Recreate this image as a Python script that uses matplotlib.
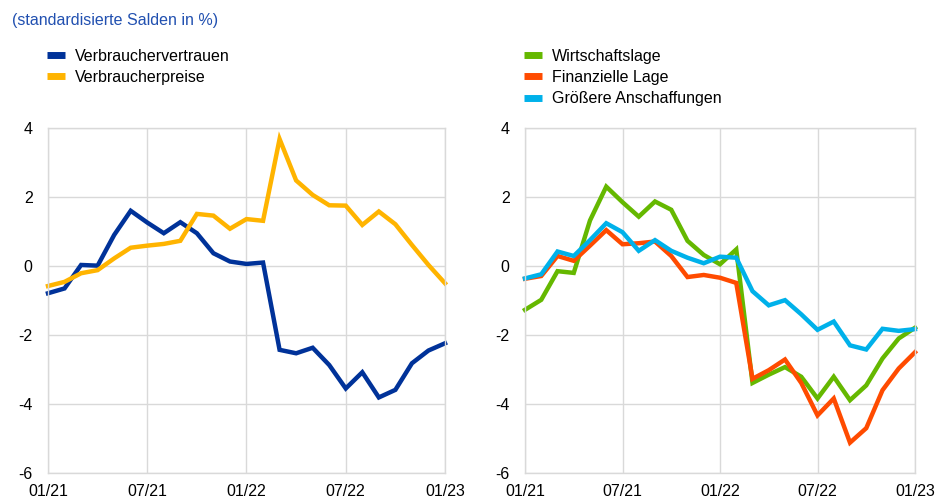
import matplotlib
matplotlib.use("Agg")
import matplotlib.pyplot as plt
import numpy as np

plt.rcParams['font.family'] = ['Liberation Sans', 'DejaVu Sans']

months = list(range(25))  # 01/21 .. 01/23 monthly
tick_pos = [0, 6, 12, 18, 24]
tick_labels = ["01/21", "07/21", "01/22", "07/22", "01/23"]
y_ticks = [4, 2, 0, -2, -4, -6]

verbrauchervertrauen = [-0.79, -0.65, 0.03, 0.01, 0.9, 1.6, 1.26, 0.95, 1.27, 0.95,
                        0.37, 0.13, 0.06, 0.1, -2.43, -2.53, -2.37, -2.87, -3.55, -3.08,
                        -3.81, -3.59, -2.82, -2.45, -2.24]
verbraucherpreise = [-0.58, -0.46, -0.21, -0.12, 0.22, 0.53, 0.59, 0.64, 0.73, 1.51,
                     1.46, 1.08, 1.36, 1.31, 3.68, 2.48, 2.06, 1.76, 1.75, 1.19,
                     1.58, 1.21, 0.61, 0.03, -0.5]

wirtschaftslage = [-1.27, -0.98, -0.15, -0.2, 1.32, 2.3, 1.85, 1.43, 1.87, 1.63,
                   0.73, 0.32, 0.05, 0.48, -3.39, -3.15, -2.93, -3.21, -3.84, -3.21,
                   -3.89, -3.46, -2.68, -2.1, -1.79]
finanzielle_lage = [-0.37, -0.29, 0.29, 0.15, 0.59, 1.04, 0.63, 0.66, 0.71, 0.29,
                    -0.32, -0.26, -0.34, -0.49, -3.27, -3.02, -2.71, -3.39, -4.33, -3.84,
                    -5.12, -4.7, -3.6, -2.97, -2.5]
groessere_anschaffungen = [-0.36, -0.24, 0.42, 0.29, 0.75, 1.24, 0.98, 0.44, 0.75, 0.44,
                           0.24, 0.08, 0.27, 0.24, -0.73, -1.14, -0.99, -1.4, -1.85, -1.61,
                           -2.3, -2.42, -1.82, -1.88, -1.83]

C_NAVY = "#003299"
C_YELLOW = "#FFB400"
C_GREEN = "#65B800"
C_ORANGE = "#FF4B00"
C_LBLUE = "#00B1EA"
GRID = "#d9d9d9"
FS = 11.5

W, H = 936, 497
fig = plt.figure(figsize=(W / 100, H / 100), dpi=100)

def make_ax(x0, x1):
    y0, y1 = 128, 473
    ax = fig.add_axes([x0 / W, 1 - y1 / H, (x1 - x0) / W, (y1 - y0) / H])
    ax.set_xlim(0, 24)
    ax.set_ylim(-6, 4)
    ax.set_xticks(tick_pos)
    ax.set_xticklabels(tick_labels)
    ax.set_yticks(y_ticks)
    ax.set_yticklabels([str(t) for t in y_ticks])
    ax.grid(True, color=GRID, lw=1)
    ax.set_axisbelow(True)
    for s in ax.spines.values():
        s.set_color(GRID)
        s.set_linewidth(1)
    ax.tick_params(length=0, labelsize=FS, colors="#000000")
    ax.tick_params(axis="y", pad=11)
    ax.tick_params(axis="x", pad=8)
    return ax

ax1 = make_ax(48, 445)
l1, = ax1.plot(months, verbrauchervertrauen, color=C_NAVY, lw=3.2, solid_joinstyle="miter", clip_on=False)
l2, = ax1.plot(months, verbraucherpreise, color=C_YELLOW, lw=3.2, solid_joinstyle="miter", clip_on=False)

ax2 = make_ax(525, 915)
l3, = ax2.plot(months, wirtschaftslage, color=C_GREEN, lw=3.2, solid_joinstyle="miter", clip_on=False)
l4, = ax2.plot(months, finanzielle_lage, color=C_ORANGE, lw=3.2, solid_joinstyle="miter", clip_on=False)
l5, = ax2.plot(months, groessere_anschaffungen, color=C_LBLUE, lw=3.2, solid_joinstyle="miter", clip_on=False)

fig.text(12 / W, 1 - 21 / H, "(standardisierte Salden in %)", color="#2150B0",
         fontsize=FS, va="center", ha="left")

def legend_at(handles, labels, x, y):
    leg = fig.legend(handles, labels, loc="upper left",
                     bbox_to_anchor=(x / W, 1 - y / H), frameon=False,
                     fontsize=FS, handlelength=1.1, handletextpad=0.65,
                     labelspacing=0.38, borderaxespad=0, borderpad=0)
    for h in leg.legend_handles:
        h.set_linewidth(5)
        h.set_solid_capstyle("butt")
    return leg

legend_at([l1, l2], ["Verbrauchervertrauen", "Verbraucherpreise"], 47, 49)
legend_at([l3, l4, l5], ["Wirtschaftslage", "Finanzielle Lage", "Größere Anschaffungen"], 524, 49)

fig.savefig("out.png", dpi=100)
